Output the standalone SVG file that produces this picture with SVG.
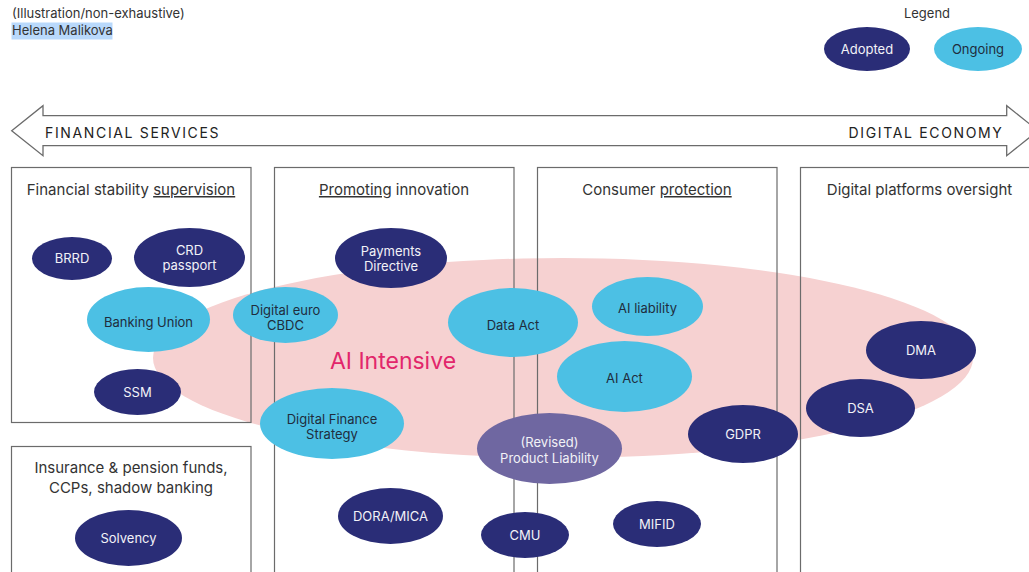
<svg xmlns="http://www.w3.org/2000/svg" width="1029" height="572" viewBox="0 0 1029 572">
<style>
  text { font-family: Inter, "Liberation Sans", Arial, sans-serif; }
  .box { fill: none; stroke: #6b6b6b; stroke-width: 1.2; }
  .hdr { font-size: 15px; fill: #333; text-anchor: middle; }
  .u { text-decoration: underline; }
  .adopted { fill: #2a2d77; }
  .ongoing { fill: #4cc0e4; }
  .revised { fill: #6f67a1; }
  .tl { font-size: 13px; fill: #f2f2f7; text-anchor: middle; }
  .td { font-size: 13px; fill: #1f2d3d; text-anchor: middle; }
  .small { font-size: 13px; fill: #333; }
  .axis { font-size: 14px; fill: #222; letter-spacing: 1.65px; }
</style>

<g id="header">
  <rect x="11.5" y="22.5" width="101" height="17" fill="#b9d9fb"/>
  <text class="small" x="12" y="18">(Illustration/non-exhaustive)</text>
  <text class="small" x="12" y="35">Helena Malikova</text>
</g>

<g id="legend">
  <text class="small" x="927" y="18" text-anchor="middle" fill="#444">Legend</text>
  <g id="legend-adopted">
    <ellipse class="adopted" cx="867" cy="49" rx="43" ry="22"/>
    <text class="tl" x="867" y="53.5">Adopted</text>
  </g>
  <g id="legend-ongoing">
    <ellipse class="ongoing" cx="978" cy="49" rx="44" ry="22"/>
    <text class="td" x="978" y="53.5">Ongoing</text>
  </g>
</g>

<g id="axis-arrow">
  <polygon points="11.7,130.7 43,105.7 43,115.7 1006.7,115.7 1006.7,105.7 1038,130.7 1006.7,155.7 1006.7,145.7 43,145.7 43,155.7" fill="#fff" stroke="#6b6b6b" stroke-width="1.3"/>
  <text class="axis" x="45" y="137.5">FINANCIAL SERVICES</text>
  <text class="axis" x="1003.5" y="137.5" text-anchor="end">DIGITAL ECONOMY</text>
</g>

<g id="ai-intensive">
  <ellipse cx="563" cy="358" rx="410" ry="100" fill="#f6d1d1"/>
  <text x="393" y="369" font-size="23" fill="#e2266b" text-anchor="middle">AI Intensive</text>
</g>

<g id="box-financial-stability">
  <rect class="box" x="11.5" y="167.5" width="239.5" height="255"/>
  <text class="hdr" x="131" y="195">Financial stability <tspan class="u">supervision</tspan></text>
</g>
<g id="box-insurance">
  <rect class="box" x="11.5" y="446.5" width="239.5" height="140"/>
  <text class="hdr" x="131" y="473">Insurance &amp; pension funds,</text>
  <text class="hdr" x="131" y="493">CCPs, shadow banking</text>
</g>
<g id="box-promoting-innovation">
  <rect class="box" x="274.5" y="167.5" width="239.5" height="420"/>
  <text class="hdr" x="394" y="195"><tspan class="u">Promoting</tspan> innovation</text>
</g>
<g id="box-consumer-protection">
  <rect class="box" x="537.5" y="167.5" width="239.5" height="420"/>
  <text class="hdr" x="657" y="195">Consumer <tspan class="u">protection</tspan></text>
</g>
<g id="box-digital-platforms">
  <rect class="box" x="800.5" y="167.5" width="239.5" height="420"/>
  <text class="hdr" x="919.5" y="195">Digital platforms oversight</text>
</g>

<g id="connectors"></g>

<g id="node-brrd">
  <ellipse class="adopted" cx="72" cy="258.5" rx="40" ry="21.5"/>
  <text class="tl" x="72" y="263">BRRD</text>
</g>
<g id="node-crd">
  <ellipse class="adopted" cx="189.5" cy="257.5" rx="55.5" ry="29.5"/>
  <text class="tl" x="189.5" y="255">CRD</text>
  <text class="tl" x="189.5" y="270">passport</text>
</g>
<g id="node-banking-union">
  <ellipse class="ongoing" cx="148.5" cy="319.5" rx="61.5" ry="32.5"/>
  <text class="td" x="148.5" y="327">Banking Union</text>
</g>
<g id="node-ssm">
  <ellipse class="adopted" cx="137.5" cy="392" rx="43.5" ry="23"/>
  <text class="tl" x="137.5" y="397">SSM</text>
</g>
<g id="node-digital-euro">
  <ellipse class="ongoing" cx="285.5" cy="315" rx="52.5" ry="28"/>
  <text class="td" x="285.5" y="315">Digital euro</text>
  <text class="td" x="285.5" y="329.5">CBDC</text>
</g>
<g id="node-payments-directive">
  <ellipse class="adopted" cx="391" cy="258" rx="56" ry="30"/>
  <text class="tl" x="391" y="255.5">Payments</text>
  <text class="tl" x="391" y="270.5">Directive</text>
</g>
<g id="node-data-act">
  <ellipse class="ongoing" cx="513" cy="322.5" rx="65" ry="34.5"/>
  <text class="td" x="513" y="329.5">Data Act</text>
</g>
<g id="node-ai-liability">
  <ellipse class="ongoing" cx="647.5" cy="306.5" rx="55.5" ry="29.5"/>
  <text class="td" x="647.5" y="313">AI liability</text>
</g>
<g id="node-ai-act">
  <ellipse class="ongoing" cx="624.5" cy="376.5" rx="67.5" ry="35.5"/>
  <text class="td" x="624.5" y="382.5">AI Act</text>
</g>
<g id="node-digital-finance-strategy">
  <ellipse class="ongoing" cx="332" cy="423.5" rx="72" ry="35.5"/>
  <text class="td" x="332" y="423.5">Digital Finance</text>
  <text class="td" x="332" y="438.5">Strategy</text>
</g>
<g id="node-product-liability">
  <ellipse class="revised" cx="549.5" cy="448.5" rx="72.5" ry="35.5"/>
  <text class="tl" x="549.5" y="447">(Revised)</text>
  <text class="tl" x="549.5" y="462.5">Product Liability</text>
</g>
<g id="node-gdpr">
  <ellipse class="adopted" cx="743" cy="434" rx="55" ry="29"/>
  <text class="tl" x="743" y="439">GDPR</text>
</g>
<g id="node-dora-mica">
  <ellipse class="adopted" cx="390.5" cy="516" rx="52.5" ry="28"/>
  <text class="tl" x="390.5" y="521">DORA/MICA</text>
</g>
<g id="node-cmu">
  <ellipse class="adopted" cx="525" cy="535" rx="44" ry="23"/>
  <text class="tl" x="525" y="540">CMU</text>
</g>
<g id="node-mifid">
  <ellipse class="adopted" cx="657" cy="524" rx="44" ry="23"/>
  <text class="tl" x="657" y="529">MIFID</text>
</g>
<g id="node-solvency">
  <ellipse class="adopted" cx="128.5" cy="538" rx="53.5" ry="28"/>
  <text class="tl" x="128.5" y="543">Solvency</text>
</g>
<g id="node-dma">
  <ellipse class="adopted" cx="921" cy="350" rx="55" ry="29"/>
  <text class="tl" x="921" y="355">DMA</text>
</g>
<g id="node-dsa">
  <ellipse class="adopted" cx="860.5" cy="408" rx="54.5" ry="29"/>
  <text class="tl" x="860.5" y="413">DSA</text>
</g>
</svg>
